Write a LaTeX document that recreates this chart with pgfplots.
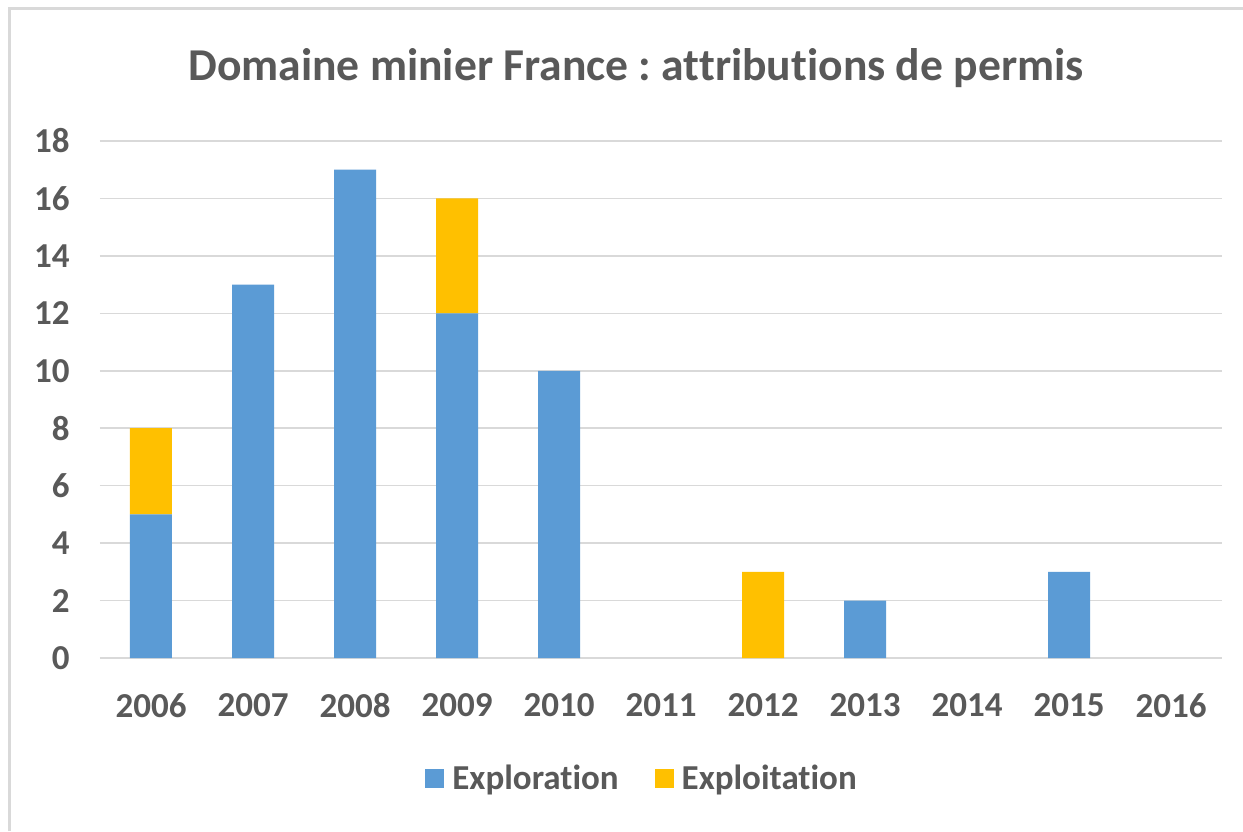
\documentclass[border=0pt]{standalone}
\usepackage{fontspec}
\setmainfont{Carlito}[Ligatures=NoCommon]
\usepackage{pgfplots}
\pgfplotsset{compat=1.18}
\definecolor{expl}{HTML}{5B9BD5}
\definecolor{expt}{HTML}{FFC000}
\definecolor{gridc}{HTML}{D9D9D9}
\definecolor{txt}{HTML}{595959}
\frenchspacing
\begin{document}
\begin{tikzpicture}
\useasboundingbox (0,0) rectangle (621.5pt,415.5pt);
\fill[white] (0,0) rectangle (621.5pt,415.5pt);
\draw[gridc, line width=1.5pt] (4.5pt,0pt) -- (4.5pt,411pt) -- (621.5pt,411pt);
\node[txt, font=\fontsize{22.8pt}{27pt}\selectfont\bfseries, anchor=center] at (318pt,381.5pt) {Domaine minier France : attribut\kern0pt ions de permis};
\begin{axis}[
  at={(50pt,86.5pt)}, anchor=south west,
  scale only axis, width=561pt, height=258.5pt,
  ybar stacked, bar width=21pt,
  xmin=-0.5, xmax=10.5, ymin=0, ymax=18,
  xtick={0,...,10},
  xticklabels={2006,2007,2008,2009,2010,2011,2012,2013,2014,2015,2016},
  ytick={0,2,...,18},
  major tick length=0pt,
  axis line style={draw=none},
  ymajorgrids, grid style={gridc, line width=0.75pt},
  /pgf/number format/assume math mode=true,
  tick label style={font=\fontsize{17.5pt}{21pt}\selectfont\bfseries, text=txt, inner sep=0pt},
  yticklabel style={anchor=east, xshift=-15pt},
  xticklabel style={anchor=north, yshift=-17.5pt},
  legend style={at={(0.484,-0.234)}, anchor=center, draw=none, fill=none,
    legend columns=-1, font=\fontsize{17.5pt}{21pt}\selectfont\bfseries, text=txt,
    /tikz/every even column/.append style={column sep=16pt},
    inner sep=0pt},
  legend image code/.code={\fill[#1] (0pt,-4.75pt) rectangle (9.5pt,4.75pt);},
]
\addplot[fill=expl, draw=none] coordinates {(0,5) (1,13) (2,17) (3,12) (4,10) (5,0) (6,0) (7,2) (8,0) (9,3) (10,0)};
\addplot[fill=expt, draw=none] coordinates {(0,3) (1,0) (2,0) (3,4) (4,0) (5,0) (6,3) (7,0) (8,0) (9,0) (10,0)};
\legend{\hspace{2pt}Explorat\kern0pt ion, \hspace{2pt}Exploitat\kern0pt ion}
\end{axis}
\end{tikzpicture}
\end{document}
